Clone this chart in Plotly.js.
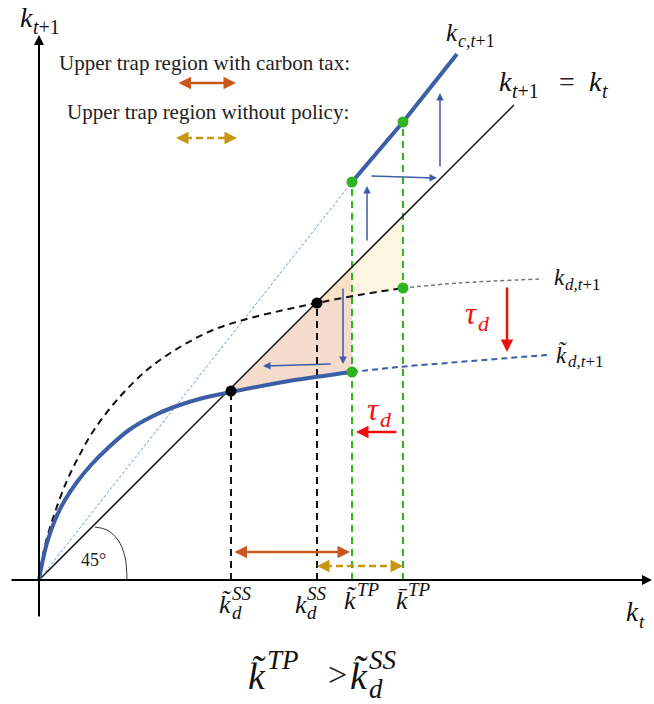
<!DOCTYPE html>
<html>
<head>
<meta charset="utf-8">
<script src="https://cdn.plot.ly/plotly-3.0.1.min.js"></script>
<style>
html, body { margin: 0; padding: 0; background: #fff; }
#chart { width: 654px; height: 704px; }
</style>
</head>
<body>
<div id="chart"></div>
<script>
// values, origin at the corner of the two axes
const kdX = [0, 5, 14, 27, 40, 55, 78, 108, 141, 174, 208, 245, 278, 320, 364];
const kdY = [0, 30, 62, 97, 124, 150, 180, 210, 233, 250, 261, 270, 277, 285, 292];
const kdTailX = [364, 420, 500];
const kdTailY = [292, 297, 301];

const ktX = [0, 3, 8, 16, 26, 38, 52, 70, 90, 112, 135, 164, 192, 250, 313];
const ktY = [0, 16, 37, 60, 80, 98, 115, 133, 150, 163, 173, 182, 188, 199, 208];
const ktTailX = [313, 360, 420, 508];
const ktTailY = [208, 213, 218, 225];

const kcX = [0, 313, 364, 418];
const kcY = [0, 398, 458, 526];
const diagX = [0, 475];
const diagY = [0, 475];

const kTildeSS = 192, kSS = 278, kTildeTP = 313, kBarTP = 364;
const arcX = [56, 68, 79, 86, 88];
const arcY = [53, 50, 40, 23, 0];

const blue = '#3b5ea6';
const green = '#2fb31f';
const orange = '#c8581c';
const gold = '#c8960c';
const serif = 'Liberation Serif';

const traces = [];

// shaded regions
const peachX = ktX.filter(x => x >= kTildeSS).concat([kTildeTP, kTildeSS]);
const peachY = ktY.filter((y, i) => ktX[i] >= kTildeSS).concat([kTildeTP, kTildeSS]);
traces.push({x: peachX, y: peachY, fill: 'toself', fillcolor: 'rgba(231,176,140,0.45)', line: {width: 0}, mode: 'lines'});
const yelX = kdX.filter(x => x >= kSS).concat([kBarTP, kSS]);
const yelY = kdY.filter((y, i) => kdX[i] >= kSS).concat([kBarTP, kSS]);
traces.push({x: yelX, y: yelY, fill: 'toself', fillcolor: 'rgba(252,232,190,0.45)', line: {width: 0}, mode: 'lines'});

// vertical guides
traces.push({x: [kTildeSS, kTildeSS], y: [0, 188], mode: 'lines', line: {color: '#111', width: 2, dash: '7px,5px'}});
traces.push({x: [kSS, kSS], y: [0, 277], mode: 'lines', line: {color: '#111', width: 2, dash: '7px,5px'}});
traces.push({x: [kTildeTP, kTildeTP], y: [0, kcY[1]], mode: 'lines', line: {color: green, width: 2, dash: '7px,5px'}});
traces.push({x: [kBarTP, kBarTP], y: [0, kcY[2]], mode: 'lines', line: {color: green, width: 2, dash: '7px,5px'}});

// 45 degree line and arc
traces.push({x: diagX, y: diagY, mode: 'lines', line: {color: '#111', width: 1.5}});
traces.push({x: arcX, y: arcY, mode: 'lines', line: {color: '#333', width: 1, shape: 'spline'}});

// k_c line
traces.push({x: kcX.slice(0, 2), y: kcY.slice(0, 2), mode: 'lines', line: {color: '#7095d8', width: 1, dash: '3px,2px'}});
traces.push({x: kcX.slice(1), y: kcY.slice(1), mode: 'lines', line: {color: blue, width: 4}});

// k_d curves
traces.push({x: kdX, y: kdY, mode: 'lines', line: {color: '#111', width: 2, dash: '7px,5px', shape: 'spline'}});
traces.push({x: kdTailX, y: kdTailY, mode: 'lines', line: {color: '#777', width: 1.5, dash: '4px,3px', shape: 'spline'}});
traces.push({x: ktX, y: ktY, mode: 'lines', line: {color: blue, width: 4, shape: 'spline'}});
traces.push({x: ktTailX, y: ktTailY, mode: 'lines', line: {color: blue, width: 2, dash: '6px,4px', shape: 'spline'}});

// dashed gold double arrows (shaft)
traces.push({x: [kSS + 8, kBarTP - 8], y: [14, 14], mode: 'lines', line: {color: gold, width: 2.5, dash: '7px,4px'}});
traces.push({x: [146, 189], y: [442, 442], mode: 'lines', line: {color: gold, width: 2.5, dash: '7px,4px'}});

// points
traces.push({x: [kTildeSS, kSS], y: [189, 277], mode: 'markers', marker: {color: '#000', size: 11}});
traces.push({x: [kTildeTP, kBarTP, kBarTP, kTildeTP], y: [kcY[1], kcY[2], 292, 208], mode: 'markers', marker: {color: green, size: 11}});

function arrow(x0, y0, x1, y1, color, width, both) {
  return {x: x1, y: y1, ax: x0, ay: y0, axref: 'x', ayref: 'y', xref: 'x', yref: 'y', text: '',
    showarrow: true, arrowhead: 2, arrowsize: 1, arrowwidth: width, arrowcolor: color,
    arrowside: both ? 'end+start' : 'end', standoff: 0, startstandoff: 0};
}

function mathText(x, y, base, sub, sup, size, color) {
  const c = color || '#111';
  const f = {family: serif, size: size, color: c};
  const fs = {family: serif, size: Math.round(size * 0.72), color: c};
  const out = [{x: x, y: y, text: base, showarrow: false, xanchor: 'right', yanchor: 'middle', borderpad: 0, font: f}];
  if (sup) out.push({x: x, y: y, text: '<i>' + sup + '</i>', showarrow: false, xanchor: 'left', yanchor: 'middle', borderpad: 0, xshift: -2, yshift: size * 0.42, font: fs});
  if (sub) out.push({x: x, y: y, text: sub, showarrow: false, xanchor: 'left', yanchor: 'middle', borderpad: 0, xshift: -2, yshift: -size * 0.34, font: fs});
  return out;
}

function plain(x, y, text, size, color) {
  return {x: x, y: y, text: text, showarrow: false, xanchor: 'center', yanchor: 'middle', font: {family: serif, size: size, color: color || '#222'}};
}

const kt = '<i>k̃</i>';
const k = '<i>k</i>';

let ann = [
  // axes
  arrow(-29, 0, 613, 0, '#000', 2),
  arrow(0, -38, 0, 545, '#000', 2),
  // blue cobweb arrows
  arrow(328, 338, 328, 394, blue, 1.5),
  arrow(331, 404, 398, 402, blue, 1.5),
  arrow(401, 412, 401, 487, blue, 1.5),
  arrow(304, 293, 304, 216, blue, 1.5),
  arrow(293, 216, 224, 214, blue, 1.5),
  // red shifts
  arrow(468, 294, 468, 228, '#ee1111', 2.5),
  arrow(359, 148, 317, 148, '#ee1111', 2.5),
  // trap regions
  arrow(194, 28, 311, 28, orange, 2.5, true),
  arrow(138, 497, 197, 497, orange, 2.5, true),
  arrow(kBarTP - 10, 14, kBarTP, 14, gold, 2.5),
  arrow(kSS + 10, 14, kSS, 14, gold, 2.5),
  arrow(189, 442, 198, 442, gold, 2.5),
  arrow(146, 442, 137, 442, gold, 2.5),
  plain(165, 517, 'Upper trap region with carbon tax:', 21),
  plain(169, 468, 'Upper trap region without policy:', 21),
  plain(54, 20, '45°', 18)
];

ann = ann.concat(
  mathText(-5, 563, k, '<i>t</i>+1', '', 28),
  mathText(601, -32, k, '<i>t</i>', '', 27),
  mathText(420, 548, k, '<i>c,t</i>+1', '', 25),
  mathText(474, 499, k, '<i>t</i>+1', '', 28),
  [plain(528, 499, '=', 28)],
  mathText(564, 499, k, '<i>t</i>', '', 28),
  mathText(527, 303, k, '<i>d,t</i>+1', '', 23),
  mathText(530, 226, kt, '<i>d,t</i>+1', '', 23),
  mathText(440, 267, '<i>τ</i>', '<i>d</i>', '', 31, '#ee1111'),
  mathText(342, 171, '<i>τ</i>', '<i>d</i>', '', 31, '#ee1111'),
  mathText(194, -24, kt, '<i>d</i>', 'SS', 26),
  mathText(269, -24, k, '<i>d</i>', 'SS', 26),
  mathText(319, -20, kt, '', 'TP', 26),
  mathText(370, -20, '<i>k̄</i>', '', 'TP', 26),
  mathText(229, -96, kt, '', 'TP', 38),
  [plain(298, -94, '>', 34)],
  mathText(331, -96, kt, '<i>d</i>', 'SS', 38)
);

const layout = {
  width: 654, height: 704,
  margin: {l: 0, r: 0, t: 0, b: 0},
  paper_bgcolor: '#fff', plot_bgcolor: '#fff',
  showlegend: false,
  xaxis: {range: [-39, 615], visible: false, fixedrange: true},
  yaxis: {range: [-124, 580], visible: false, fixedrange: true},
  annotations: ann
};

traces.forEach(t => { t.type = 'scatter'; t.hoverinfo = 'skip'; });
Plotly.newPlot('chart', traces, layout, {staticPlot: true});
</script>
</body>
</html>
